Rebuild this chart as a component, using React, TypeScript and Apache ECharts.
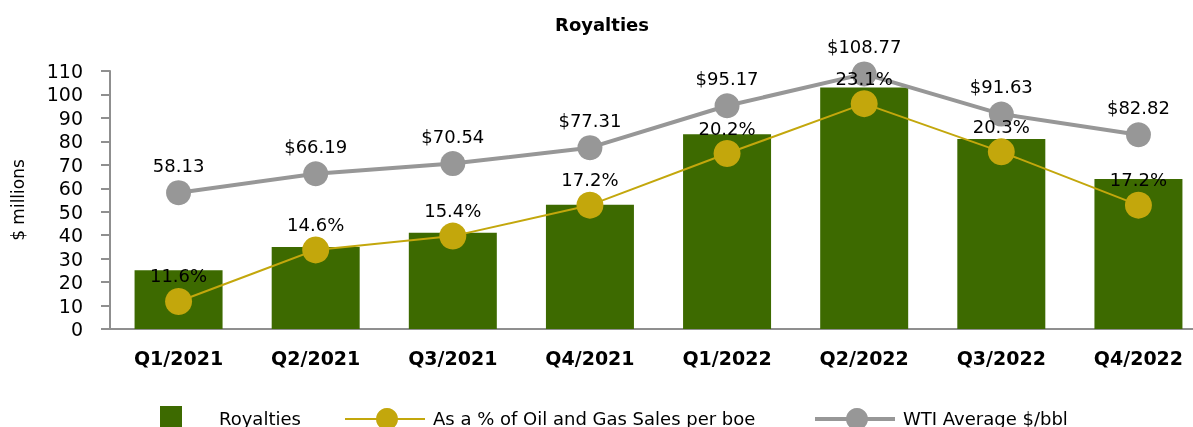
import React, { useEffect, useRef } from "react";
import * as echarts from "echarts";

const categories = ["Q1/2021", "Q2/2021", "Q3/2021", "Q4/2021", "Q1/2022", "Q2/2022", "Q3/2022", "Q4/2022"];
const royalties = [25, 35, 41, 53, 83, 103, 81, 64];
const pctOfSales = [11.6, 14.6, 15.4, 17.2, 20.2, 23.1, 20.3, 17.2];
const wtiAverage = [58.13, 66.19, 70.54, 77.31, 95.17, 108.77, 91.63, 82.82];
const yTicks = { min: 0, max: 110, interval: 10 };
const seriesNames = ["Royalties", "As a % of Oil and Gas Sales per boe", "WTI Average $/bbl"];

const FONT = "DejaVu Sans";
const GREEN = "#3d6a00";
const YELLOW = "#c3a70c";
const GRAY = "#979797";
const AXIS = "#8f8f8f";

export default function App() {
  const ref = useRef<HTMLDivElement>(null);
  useEffect(() => {
    document.documentElement.style.overflow = "hidden";
    document.body.style.overflow = "hidden";
    const chart = echarts.init(ref.current!, undefined, { renderer: "svg" });
    const labelStyle = { color: "#000", fontFamily: FONT, fontSize: 18 };
    chart.setOption({
      animation: false,
      textStyle: { fontFamily: FONT },
      grid: { left: 110, right: 13, top: 71, bottom: 98, containLabel: false },
      xAxis: {
        type: "category",
        data: categories,
        axisLine: { lineStyle: { color: AXIS, width: 2 } },
        axisTick: { alignWithLabel: true, length: 8, lineStyle: { color: AXIS, width: 2 } },
        axisLabel: { color: "#000", fontFamily: FONT, fontSize: 19, fontWeight: "bold", margin: 19 },
      },
      yAxis: [
        {
          type: "value",
          min: yTicks.min,
          max: yTicks.max,
          interval: yTicks.interval,
          name: "$ millions",
          nameLocation: "middle",
          nameRotate: 90,
          nameGap: 84,
          nameTextStyle: { color: "#000", fontFamily: FONT, fontSize: 17 },
          splitLine: { show: false },
          axisLine: { show: true, lineStyle: { color: AXIS, width: 2 } },
          axisTick: { show: true, length: 9, lineStyle: { color: AXIS, width: 2 } },
          axisLabel: { color: "#000", fontFamily: FONT, fontSize: 19, margin: 27 },
        },
        {
          type: "value",
          min: 10,
          max: 25,
          show: false,
          splitLine: { show: false },
        },
      ],
      series: [
        {
          name: seriesNames[0],
          type: "bar",
          data: royalties,
          barWidth: 88,
          itemStyle: { color: GREEN },
          z: 1,
        },
        {
          name: seriesNames[1],
          type: "line",
          yAxisIndex: 1,
          data: pctOfSales,
          symbol: "circle",
          symbolSize: 27,
          lineStyle: { color: YELLOW, width: 2 },
          itemStyle: { color: YELLOW },
          label: {
            show: true,
            position: "top",
            distance: 3,
            ...labelStyle,
            formatter: (p: any) => `${Number(p.value).toFixed(1)}%`,
          },
          z: 3,
        },
        {
          name: seriesNames[2],
          type: "line",
          data: wtiAverage,
          symbol: "circle",
          symbolSize: 25,
          lineStyle: { color: GRAY, width: 4 },
          itemStyle: { color: GRAY },
          label: {
            show: true,
            position: "top",
            distance: 6,
            ...labelStyle,
            formatter: (p: any) => (p.dataIndex === 0 ? Number(p.value).toFixed(2) : `$${Number(p.value).toFixed(2)}`),
          },
          z: 2,
        },
      ],
      graphic: [
        {
          type: "text",
          x: 602,
          y: 24,
          style: { text: "Royalties", fontFamily: FONT, fontSize: 18, fontWeight: "bold", fill: "#000", align: "center", verticalAlign: "middle" },
        },
        { type: "rect", shape: { x: 160, y: 406, width: 22, height: 22 }, style: { fill: GREEN } },
        {
          type: "text",
          x: 219,
          y: 418,
          style: { text: seriesNames[0], fontFamily: FONT, fontSize: 18, fill: "#000", align: "left", verticalAlign: "middle" },
        },
        { type: "line", shape: { x1: 345, y1: 419, x2: 425, y2: 419 }, style: { stroke: YELLOW, lineWidth: 2 } },
        { type: "circle", shape: { cx: 387, cy: 419, r: 11 }, style: { fill: YELLOW } },
        {
          type: "text",
          x: 433,
          y: 418,
          style: { text: seriesNames[1], fontFamily: FONT, fontSize: 18, fill: "#000", align: "left", verticalAlign: "middle" },
        },
        { type: "line", shape: { x1: 815, y1: 419, x2: 895, y2: 419 }, style: { stroke: GRAY, lineWidth: 4 } },
        { type: "circle", shape: { cx: 857, cy: 419, r: 11 }, style: { fill: GRAY } },
        {
          type: "text",
          x: 903,
          y: 418,
          style: { text: seriesNames[2], fontFamily: FONT, fontSize: 18, fill: "#000", align: "left", verticalAlign: "middle" },
        },
      ],
    });
    return () => chart.dispose();
  }, []);
  return <div ref={ref} style={{ position: "fixed", left: 0, top: 0, width: 1220, height: 427 }} />;
}
